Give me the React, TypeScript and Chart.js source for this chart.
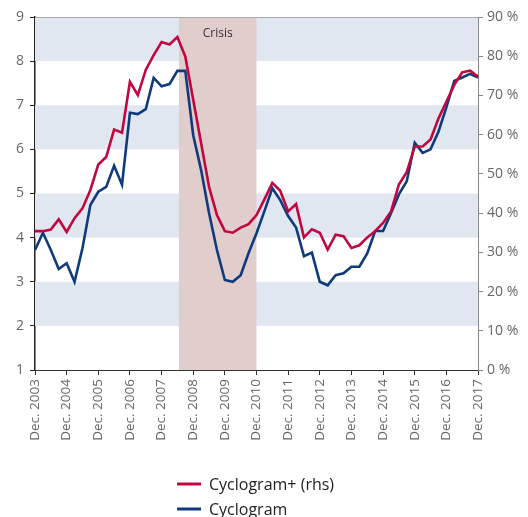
import React, { useEffect, useRef } from "react";
import { Chart, registerables } from "chart.js";

Chart.register(...registerables);

const yearLabels = [
  "Dec. 2003", "Dec. 2004", "Dec. 2005", "Dec. 2006", "Dec. 2007",
  "Dec. 2008", "Dec. 2009", "Dec. 2010", "Dec. 2011", "Dec. 2012",
  "Dec. 2013", "Dec. 2014", "Dec. 2015", "Dec. 2016", "Dec. 2017",
];

// Quarterly values, Dec. 2003 .. Dec. 2017
const cyclogramPlus = [
  35.4, 35.4, 35.8, 38.4, 35.2, 38.7, 41.2, 45.9, 52.4, 54.3,
  61.3, 60.5, 73.5, 70.1, 76.5, 80.3, 83.6, 83.0, 84.9, 79.9,
  68.9, 57.8, 46.7, 39.5, 35.4, 35.0, 36.3, 37.2, 39.5, 43.5,
  47.7, 45.7, 40.4, 42.3, 33.8, 35.9, 35.0, 30.7, 34.5, 34.1,
  31.1, 31.8, 33.8, 35.4, 37.5, 40.4, 47.3, 50.5, 57.0, 57.0,
  58.8, 64.1, 68.4, 72.7, 75.9, 76.3, 74.8,
];

const cyclogram = [
  3.72, 4.11, 3.72, 3.29, 3.42, 3.0, 3.76, 4.74, 5.04, 5.15,
  5.63, 5.2, 6.83, 6.8, 6.91, 7.62, 7.43, 7.48, 7.78, 7.78,
  6.32, 5.53, 4.56, 3.72, 3.04, 3.0, 3.15, 3.65, 4.1, 4.6,
  5.12, 4.85, 4.49, 4.23, 3.58, 3.66, 3.0, 2.92, 3.15, 3.19,
  3.34, 3.34, 3.64, 4.15, 4.15, 4.55, 4.98, 5.28, 6.15, 5.92,
  6.0, 6.4, 6.95, 7.55, 7.63, 7.71, 7.63,
];

const shadedBands = [
  [2, 3],
  [4, 5],
  [6, 7],
  [8, 9],
];
const crisisRange = [18.2, 28];
const crisisLabel = "Crisis";

const seriesNames = ["Cyclogram+ (rhs)", "Cyclogram"];
const seriesColors = ["#C2063F", "#0F3A7B"];

const quarterLabels: string[] = [];
yearLabels.forEach((lab, i) => {
  quarterLabels.push(lab);
  if (i < yearLabels.length - 1) {
    quarterLabels.push("", "", "");
  }
});

const FONT = "'Open Sans', 'Noto Sans', sans-serif";

const bgPlugin = {
  id: "bgBands",
  beforeDatasetsDraw(chart: any) {
    const { ctx, chartArea, scales } = chart;
    const y = scales.y;
    const x = scales.x;
    ctx.save();
    ctx.fillStyle = "#E1E7F1";
    shadedBands.forEach(([a, b]) => {
      const y1 = y.getPixelForValue(b);
      const y2 = y.getPixelForValue(a);
      ctx.fillRect(chartArea.left, y1, chartArea.right - chartArea.left, y2 - y1);
    });
    const cx1 = x.getPixelForValue(crisisRange[0]);
    const cx2 = x.getPixelForValue(crisisRange[1]);
    ctx.fillStyle = "#E2CDCD";
    ctx.fillRect(cx1, chartArea.top, cx2 - cx1, chartArea.bottom - chartArea.top);
    ctx.fillStyle = "#333";
    ctx.font = `12px ${FONT}`;
    ctx.textAlign = "center";
    ctx.textBaseline = "middle";
    ctx.fillText(crisisLabel, (cx1 + cx2) / 2, chartArea.top + 17);
    ctx.strokeStyle = "#AAAAAA";
    ctx.lineWidth = 1;
    ctx.beginPath();
    ctx.moveTo(chartArea.left, chartArea.top + 0.5);
    ctx.lineTo(chartArea.right, chartArea.top + 0.5);
    ctx.stroke();
    ctx.restore();
  },
};

const legendPlugin = {
  id: "customLegend",
  afterDraw(chart: any) {
    const { ctx } = chart;
    ctx.save();
    ctx.font = `16px ${FONT}`;
    ctx.textAlign = "left";
    ctx.textBaseline = "middle";
    seriesNames.forEach((name, i) => {
      const yy = 484 + i * 25;
      ctx.strokeStyle = seriesColors[i];
      ctx.lineWidth = 3;
      ctx.beginPath();
      ctx.moveTo(177, yy);
      ctx.lineTo(201, yy);
      ctx.stroke();
      ctx.fillStyle = "#222";
      ctx.fillText(name, 209, yy + 1);
    });
    ctx.restore();
  },
};

export default function App() {
  const ref = useRef<HTMLCanvasElement>(null);
  useEffect(() => {
    document.body.style.margin = "0";
    if (!ref.current) return;
    const chart = new Chart(ref.current, {
      type: "line",
      data: {
        labels: quarterLabels,
        datasets: [
          {
            label: seriesNames[0],
            data: cyclogramPlus,
            yAxisID: "y1",
            borderColor: seriesColors[0],
            borderWidth: 2.6,
            pointRadius: 0,
            tension: 0,
          },
          {
            label: seriesNames[1],
            data: cyclogram,
            yAxisID: "y",
            borderColor: seriesColors[1],
            borderWidth: 2.6,
            pointRadius: 0,
            tension: 0,
          },
        ],
      },
      options: {
        animation: false,
        responsive: false,
        layout: { padding: { top: 17, left: 0, right: 0, bottom: 0 } },
        plugins: {
          legend: { display: false },
          tooltip: { enabled: false },
        },
        scales: {
          x: {
            type: "category",
            offset: false,
            grid: {
              display: true,
              drawOnChartArea: false,
              drawTicks: true,
              tickLength: 5,
              color: "#333",
            },
            border: { display: true, color: "#333", width: 1 },
            ticks: {
              autoSkip: false,
              maxRotation: 90,
              minRotation: 90,
              padding: 4,
              color: "#666",
              font: { family: FONT, size: 13.5 },
              callback: (_v: any, i: number) => (i % 4 === 0 ? quarterLabels[i] : null),
            },
            afterFit: (s: any) => {
              s.height = 147;
            },
          },
          y: {
            position: "left",
            min: 1,
            max: 9,
            grid: {
              display: true,
              drawOnChartArea: false,
              drawTicks: true,
              tickLength: 5,
              color: "#222",
            },
            border: { display: true, color: "#222", width: 1.5 },
            ticks: {
              stepSize: 1,
              padding: 6,
              color: "#666",
              font: { family: FONT, size: 14 },
            },
            afterFit: (s: any) => {
              s.width = 35;
            },
          },
          y1: {
            position: "right",
            min: 0,
            max: 90,
            grid: {
              display: true,
              drawOnChartArea: false,
              drawTicks: true,
              tickLength: 5,
              color: "#888",
            },
            border: { display: true, color: "#888", width: 1 },
            ticks: {
              stepSize: 10,
              padding: 4,
              color: "#666",
              font: { family: FONT, size: 14 },
              callback: (v: any) => `${v} %`,
            },
            afterFit: (s: any) => {
              s.width = 50;
            },
          },
        },
      },
      plugins: [bgPlugin, legendPlugin],
    });
    return () => chart.destroy();
  }, []);
  return (
    <div style={{ width: 528, height: 517 }}>
      <canvas ref={ref} width={528} height={517} />
    </div>
  );
}
